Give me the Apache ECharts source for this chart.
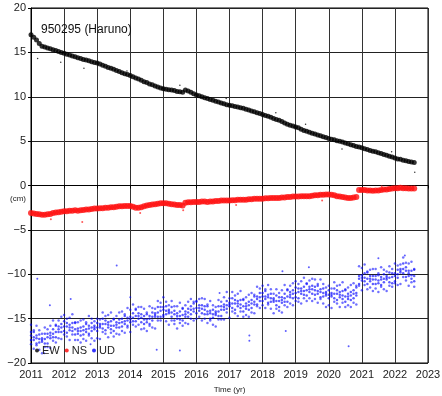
<!DOCTYPE html>
<html>
<head>
<meta charset="utf-8">
<script src="https://cdn.jsdelivr.net/npm/echarts@6/dist/echarts.min.js"></script>
<style>
html,body{margin:0;padding:0;background:#fff;}
#main{width:442px;height:396px;}
</style>
</head>
<body>
<div id="main"></div>
<script>
// monthly samples, first sample at 2011.0
var startYear = 2011;
var xTicks = [2011,2012,2013,2014,2015,2016,2017,2018,2019,2020,2021,2022,2023];
var yTicks = [-20,-15,-10,-5,0,5,10,15,20];

// EW (cm)
var ew = [
 17.0,16.7,16.4,16.0,15.7,15.6,15.5,15.4,15.3,15.2,15.1,15.0,
 14.9,14.8,14.7,14.6,14.5,14.4,14.3,14.2,14.15,14.05,13.95,13.85,
 13.8,13.7,13.55,13.45,13.3,13.2,13.1,12.95,12.85,12.7,12.6,12.5,
 12.4,12.25,12.1,12.0,11.85,11.7,11.6,11.45,11.35,11.2,11.1,11.0,
 10.9,10.85,10.8,10.75,10.7,10.6,10.55,10.5,10.75,10.65,10.5,10.35,
 10.2,10.1,10.0,9.9,9.8,9.7,9.6,9.5,9.4,9.3,9.2,9.1,
 9.05,9.0,8.9,8.85,8.75,8.7,8.6,8.5,8.4,8.3,8.2,8.1,
 8.0,7.9,7.8,7.7,7.55,7.45,7.35,7.2,7.05,6.9,6.8,6.7,
 6.6,6.5,6.35,6.2,6.1,6.0,5.9,5.8,5.7,5.6,5.5,5.4,
 5.3,5.2,5.15,5.05,5.0,4.9,4.8,4.7,4.6,4.5,4.4,4.35,
 4.25,4.15,4.05,3.95,3.85,3.8,3.7,3.6,3.5,3.4,3.3,3.2,
 3.1,3.0,2.95,2.85,2.8,2.7,2.65,2.6
];
var ewOut = [[2011.2,14.3],[2011.9,13.9],[2012.6,13.2],[2013.9,12.9],[2015.5,11.3],[2016.9,9.8],[2018.4,8.2],[2019.3,6.9],[2020.4,4.1],[2021.9,3.8],[2022.6,1.5]];

// NS (cm)
var ns = [
 -3.1,-3.15,-3.2,-3.25,-3.3,-3.3,-3.25,-3.2,-3.1,-3.05,-3.0,-2.95,
 -2.9,-2.9,-2.85,-2.85,-2.8,-2.85,-2.8,-2.75,-2.7,-2.7,-2.65,-2.6,
 -2.6,-2.55,-2.55,-2.5,-2.5,-2.45,-2.45,-2.4,-2.35,-2.35,-2.3,-2.3,
 -2.3,-2.4,-2.5,-2.5,-2.45,-2.35,-2.25,-2.2,-2.15,-2.1,-2.05,-2.0,
 -2.0,-2.0,-2.05,-2.1,-2.15,-2.2,-2.2,-2.25,-1.95,-1.9,-1.9,-1.85,
 -1.85,-1.85,-1.8,-1.8,-1.85,-1.8,-1.8,-1.75,-1.75,-1.7,-1.7,-1.7,
 -1.7,-1.65,-1.65,-1.6,-1.6,-1.6,-1.6,-1.55,-1.55,-1.5,-1.5,-1.5,
 -1.5,-1.45,-1.45,-1.4,-1.4,-1.4,-1.4,-1.35,-1.35,-1.3,-1.3,-1.25,
 -1.25,-1.25,-1.2,-1.2,-1.2,-1.2,-1.15,-1.1,-1.1,-1.05,-1.05,-1.0,
 -1.0,-1.05,-1.1,-1.2,-1.25,-1.3,-1.35,-1.4,-1.4,-1.35,-1.3,-0.5,
 -0.5,-0.5,-0.55,-0.55,-0.6,-0.55,-0.55,-0.5,-0.45,-0.45,-0.4,-0.35,
 -0.3,-0.3,-0.25,-0.3,-0.3,-0.35,-0.35,-0.35
];
var nsOut = [[2012.55,-4.1],[2011.6,-3.8],[2014.3,-3.1],[2015.6,-2.8],[2017.2,-2.2],[2019.8,-1.7],[2021.6,-0.1]];

// UD (cm): four rows across the scatter cloud, plus the centre
var udCenter = [
 -16.9,-17.1,-17.2,-17.3,-17.4,-17.3,-17.1,-16.9,-16.7,-16.5,-16.2,-16.0,
 -15.9,-15.9,-16.0,-16.0,-16.2,-16.4,-16.4,-16.3,-16.2,-16.1,-16.0,-16.0,
 -16.0,-15.8,-15.6,-15.6,-15.7,-15.8,-15.8,-15.7,-15.5,-15.4,-15.3,-15.2,
 -15.1,-14.9,-14.7,-14.7,-14.9,-15.1,-15.1,-15.0,-14.8,-14.6,-14.3,-14.1,
 -14.0,-14.1,-14.2,-14.3,-14.5,-14.7,-14.7,-14.6,-14.5,-14.3,-14.0,-13.9,
 -13.8,-13.8,-13.9,-14.0,-14.2,-14.4,-14.5,-14.4,-14.2,-14.0,-13.7,-13.5,
 -13.4,-13.3,-13.3,-13.3,-13.4,-13.6,-13.6,-13.5,-13.3,-13.1,-12.8,-12.6,
 -12.5,-12.5,-12.6,-12.7,-12.9,-13.0,-13.0,-12.9,-12.7,-12.5,-12.3,-12.2,
 -12.1,-12.0,-11.9,-11.9,-11.8,-11.7,-11.7,-11.8,-11.9,-12.0,-12.1,-12.2,
 -12.3,-12.3,-12.2,-12.2,-12.3,-12.4,-12.5,-12.5,-12.4,-12.2,-12.1,-10.5,
 -10.4,-10.4,-10.5,-10.5,-10.6,-10.6,-10.7,-10.6,-10.5,-10.4,-10.4,-10.3,
 -10.2,-10.0,-9.6,-9.4,-9.6,-9.9,-10.1,-10.2
];
var udHigh = [
 -15.7,-16.3,-15.8,-16.3,-16.7,-16.0,-16.2,-15.8,-15.2,-15.7,-15.2,-14.8,
 -14.6,-15.0,-14.9,-14.5,-15.4,-15.4,-15.2,-15.1,-15.4,-14.7,-15.0,-15.3,
 -15.0,-15.1,-14.3,-14.7,-14.6,-14.3,-15.0,-14.7,-14.3,-14.2,-14.5,-13.8,
 -14.0,-13.4,-13.9,-13.7,-13.7,-13.9,-14.3,-13.6,-13.8,-13.9,-13.0,-13.2,
 -12.6,-13.1,-13.5,-13.0,-13.6,-13.6,-13.2,-13.8,-13.5,-13.1,-12.8,-13.1,
 -13.0,-12.8,-12.7,-12.8,-13.4,-13.0,-13.5,-13.7,-12.9,-13.1,-12.6,-12.0,
 -12.7,-12.0,-12.4,-12.2,-11.9,-12.8,-12.6,-12.3,-12.1,-12.3,-11.4,-11.6,
 -11.3,-11.7,-11.2,-11.7,-12.2,-11.7,-12.1,-11.8,-11.2,-11.7,-11.3,-11.0,
 -10.8,-11.1,-10.8,-10.4,-11.0,-10.7,-10.5,-10.6,-11.1,-10.6,-11.1,-11.5,
 -11.3,-11.6,-10.9,-11.3,-11.2,-10.9,-11.7,-11.5,-11.2,-11.0,-11.3,-9.1,
 -9.3,-8.9,-9.7,-9.5,-9.4,-9.4,-9.9,-9.2,-9.5,-9.7,-9.1,-9.4,
 -8.8,-9.0,-8.9,-8.1,-8.7,-8.8,-8.6,-9.4
];
var udMidHigh = [
 -16.5,-16.5,-16.9,-16.8,-17.2,-16.7,-16.7,-16.6,-16.2,-15.8,-15.9,-15.6,
 -15.3,-15.5,-15.7,-15.5,-15.5,-16.1,-16.0,-15.9,-15.6,-15.8,-15.5,-15.8,
 -15.5,-15.6,-15.0,-15.2,-15.4,-15.3,-15.1,-15.4,-15.1,-15.0,-14.7,-14.9,
 -14.8,-14.4,-14.0,-14.4,-14.5,-14.7,-14.5,-14.7,-14.3,-14.4,-13.7,-13.7,
 -13.7,-13.6,-14.0,-13.7,-14.1,-14.4,-14.2,-13.9,-14.2,-13.9,-13.6,-13.3,
 -13.1,-13.5,-13.5,-13.6,-13.6,-14.1,-14.0,-14.2,-13.6,-13.6,-13.4,-13.0,
 -13.2,-12.7,-12.9,-13.0,-12.9,-12.9,-13.3,-13.1,-12.9,-12.5,-12.5,-12.1,
 -12.1,-11.9,-12.3,-12.2,-12.7,-12.4,-12.6,-12.6,-12.2,-11.8,-12.0,-11.8,
 -11.5,-11.6,-11.6,-11.4,-11.1,-11.4,-11.3,-11.4,-11.3,-11.7,-11.6,-12.0,
 -11.8,-12.1,-11.6,-11.8,-12.0,-11.9,-11.8,-12.2,-12.0,-11.8,-11.5,-10.2,
 -10.1,-9.9,-9.8,-10.2,-10.2,-10.2,-10.1,-10.3,-10.0,-10.2,-9.8,-9.9,
 -9.9,-9.5,-9.4,-8.8,-9.2,-9.6,-9.6,-9.5
];
var udMidLow = [
 -17.4,-17.4,-17.8,-17.7,-17.6,-17.8,-17.8,-17.2,-17.1,-17.1,-16.5,-16.5,
 -16.4,-16.6,-16.3,-16.4,-16.8,-16.7,-16.9,-16.8,-16.5,-16.7,-16.4,-16.2,
 -16.4,-16.0,-16.1,-16.3,-16.0,-16.2,-16.4,-16.0,-16.0,-15.9,-15.6,-15.8,
 -15.4,-15.3,-15.3,-15.0,-15.4,-15.6,-15.4,-15.6,-15.2,-14.8,-14.8,-14.8,
 -14.6,-14.5,-14.4,-14.8,-15.2,-15.0,-15.1,-15.2,-14.8,-14.8,-14.5,-14.2,
 -14.4,-14.1,-14.4,-14.5,-14.5,-15.0,-14.9,-14.6,-14.7,-14.7,-14.0,-13.9,
 -13.6,-13.8,-14.0,-13.6,-13.8,-14.2,-13.9,-14.0,-13.8,-13.4,-13.4,-13.0,
 -13.0,-12.8,-13.2,-13.1,-13.1,-13.5,-13.7,-13.2,-13.1,-13.1,-12.6,-12.7,
 -12.6,-12.7,-12.2,-12.3,-12.4,-12.0,-12.2,-12.3,-12.2,-12.6,-12.5,-12.4,
 -12.7,-12.5,-12.7,-12.9,-12.6,-12.8,-13.1,-12.8,-12.9,-12.7,-12.4,-11.1,
 -10.7,-10.8,-11.1,-10.8,-11.1,-11.1,-11.0,-11.2,-10.9,-10.6,-10.9,-11.0,
 -10.8,-10.4,-9.8,-9.9,-10.3,-10.2,-10.5,-10.8
];
var udLow = [
 -17.9,-18.4,-18.0,-18.5,-18.9,-18.2,-18.2,-18.3,-17.5,-17.7,-17.2,-17.3,
 -16.8,-17.0,-17.4,-16.8,-17.4,-17.4,-17.7,-17.3,-17.5,-16.9,-17.2,-17.5,
 -17.2,-17.3,-16.5,-16.7,-17.1,-16.6,-17.0,-16.7,-16.8,-16.4,-16.6,-16.0,
 -16.5,-15.7,-15.9,-15.7,-16.2,-16.1,-16.4,-15.8,-16.0,-16.1,-15.2,-15.2,
 -14.8,-15.3,-15.7,-15.2,-15.6,-16.1,-15.5,-15.8,-15.5,-15.6,-15.0,-15.2,
 -15.0,-14.8,-15.2,-15.0,-15.5,-15.2,-15.7,-15.9,-15.1,-15.1,-15.1,-14.3,
 -14.9,-14.2,-14.4,-14.7,-14.2,-14.8,-14.6,-14.8,-14.3,-14.4,-13.6,-13.8,
 -13.5,-13.8,-13.4,-13.9,-14.4,-13.9,-14.1,-14.3,-13.5,-13.7,-13.3,-13.5,
 -13.0,-13.1,-13.3,-12.7,-13.0,-12.7,-13.0,-12.8,-13.2,-12.8,-13.3,-13.7,
 -13.5,-13.8,-13.1,-13.3,-13.7,-13.2,-13.7,-13.5,-13.7,-13.2,-13.4,-11.3,
 -11.8,-11.2,-11.7,-11.5,-11.9,-11.6,-12.0,-11.4,-11.7,-11.9,-11.3,-11.4,
 -11.0,-11.2,-11.1,-10.3,-10.7,-11.3,-10.9,-11.4
];
var udOut = [[2011.19,-10.5],[2013.59,-9.0],[2011.57,-13.5],[2012.2,-12.8],[2014.0,-12.6],[2014.8,-18.5],[2015.5,-18.6],
 [2016.7,-12.1],[2017.6,-16.9],[2017.6,-17.5],[2018.6,-9.65],[2018.7,-16.4],[2019.4,-9.2],[2020.6,-18.1],[2021.5,-8.2],[2022.3,-7.9],[2011.4,-18.9],[2012.8,-17.9]];

function toPoints(vals){
	var pts = [];
	for(var i=0;i<vals.length;i++){
		pts.push([startYear + i/12, vals[i]]);
	}
	return pts;
}

var chart = echarts.init(document.getElementById("main"));
var font = "Liberation Sans";

function scatter(name, data, color, size){
	return {
		name: name,
		type: 'scatter',
		data: data,
		symbol: 'circle',
		symbolSize: size,
		itemStyle: {color: color},
		silent: true,
		z: 3
	};
}

var option = {
	animation: false,
	backgroundColor: '#fff',
	textStyle: {fontFamily: font},
	title: {
		text: '950295 (Haruno)',
		left: 36, top: 19,
		textStyle: {fontSize: 12, fontWeight: 'normal', color: '#111', fontFamily: font}
	},
	legend: {
		data: [
			{name: 'EW', itemStyle: {color: '#000'}},
			{name: 'NS', itemStyle: {color: '#ff0000'}},
			{name: 'UD', itemStyle: {color: '#0000ff'}}
		],
		icon: 'circle',
		left: 35, top: 345,
		itemWidth: 4, itemHeight: 4, itemGap: 5,
		padding: 0,
		textStyle: {fontSize: 11, color: '#222', fontFamily: font, padding: [0,0,0,-2]}
	},
	grid: {
		left: 31, right: 14, top: 8, bottom: 33,
		containLabel: false, outerBoundsMode: 'none',
		show: true, borderColor: '#000', borderWidth: 1
	},
	xAxis: {
		type: 'value',
		min: 2011, max: 2023, interval: 1,
		name: 'Time (yr)',
		nameLocation: 'middle',
		nameGap: 23,
		nameTextStyle: {fontSize: 8, color: '#222', fontFamily: font},
		axisLine: {lineStyle: {color: '#000'}},
		axisTick: {length: 3, lineStyle: {color: '#000'}},
		axisLabel: {
			fontSize: 11, color: '#222', margin: 6, fontFamily: font,
			formatter: function(v){ return String(v); }
		},
		splitLine: {lineStyle: {color: '#333', width: 1}}
	},
	yAxis: {
		type: 'value',
		min: -20, max: 20, interval: 5,
		axisLine: {show: true, lineStyle: {color: '#000'}},
		axisTick: {show: true, length: 3, lineStyle: {color: '#000'}},
		axisLabel: {
			fontSize: 11, color: '#222', margin: 5, fontFamily: font,
			formatter: function(v){ return String(v).replace('-', '\u2212'); }
		},
		splitLine: {lineStyle: {color: '#222', width: 1}}
	},
	graphic: [{
		type: 'text',
		left: 10, top: 195,
		style: {text: '(cm)', fontSize: 8, fill: '#222', fontFamily: font}
	}],
	series: [
		scatter('UD', toPoints(udHigh), 'rgba(0,0,255,0.7)', 2.5),
		scatter('UD', toPoints(udMidHigh), 'rgba(0,0,255,0.8)', 2.5),
		scatter('UD', toPoints(udCenter), 'rgba(0,0,255,0.8)', 2.5),
		scatter('UD', toPoints(udMidLow), 'rgba(0,0,255,0.8)', 2.5),
		scatter('UD', toPoints(udLow), 'rgba(0,0,255,0.7)', 2.5),
		scatter('UD', udOut, 'rgba(0,0,255,0.8)', 2),
		scatter('NS', toPoints(ns), '#ff1010', 6),
		scatter('NS', nsOut, '#ff3030', 2),
		scatter('EW', toPoints(ew), '#000', 5),
		scatter('EW', ewOut, '#000', 1.5)
	]
};
chart.setOption(option);
</script>
</body>
</html>
